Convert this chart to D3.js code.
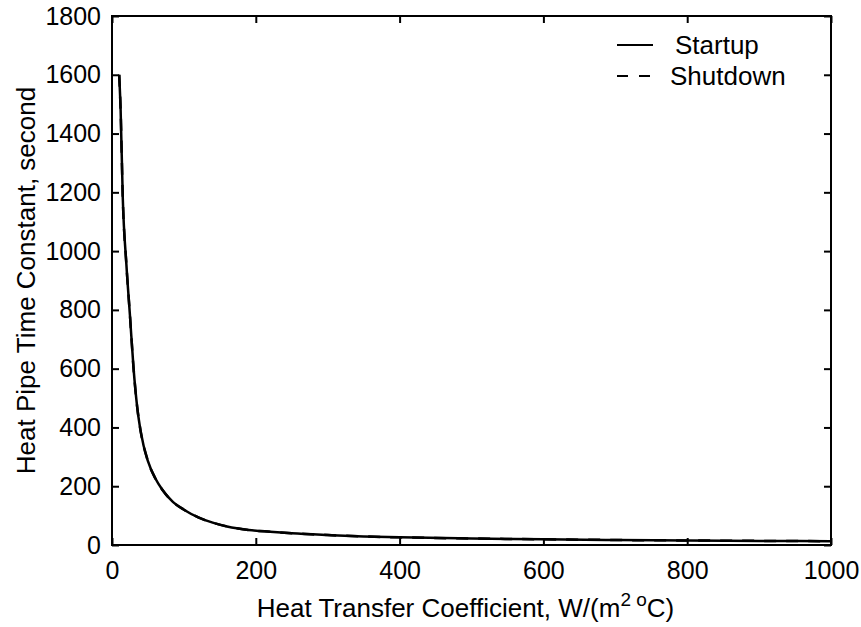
<!DOCTYPE html>
<html>
<head>
<meta charset="utf-8">
<script src="https://cdnjs.cloudflare.com/ajax/libs/d3/7.8.5/d3.min.js"></script>
<style>
  body { margin: 0; background: #fff; }
  text { font-family: "Liberation Sans", Arial, Helvetica, sans-serif; fill: #000; }
</style>
</head>
<body>
<div id="chart"></div>
<script>
// heat transfer coefficient, W/(m2 C)
var coeff = [10, 12, 15, 20, 25, 30, 35, 40, 50, 60, 70, 85, 100, 120, 140, 160, 190, 220, 250, 300, 350, 400, 500, 600, 700, 800, 900, 1000];
// time constant, seconds
var startup = [1600, 1480, 1180, 955, 780, 600, 470, 385, 285, 228, 188, 146, 120, 94, 76, 63, 51, 45, 40, 34, 29, 26, 22, 19.5, 17, 15.5, 14, 13];
// shutdown curve lies on top of the startup one
var shutdown = startup.slice();

var seriesNames = ["Startup", "Shutdown"];
var xTicks = [0, 200, 400, 600, 800, 1000];
var yTicks = [0, 200, 400, 600, 800, 1000, 1200, 1400, 1600, 1800];

var W = 861, H = 627;
var mLeft = 112, mRight = 831, mTop = 16, mBottom = 545;

var svg = d3.select("#chart").append("svg")
  .attr("width", W).attr("height", H);

var x = d3.scaleLinear().domain([0, 1000]).range([mLeft, mRight]);
var y = d3.scaleLinear().domain([0, 1800]).range([mBottom, mTop]);

// ticks on all four sides, pointing in
var tickLen = 7;
svg.append("g").attr("transform", "translate(0," + mBottom + ")")
  .call(d3.axisBottom(x).tickValues(xTicks).tickSize(-tickLen).tickPadding(16).tickFormat(d3.format("d")))
  .call(styleAxis);
svg.append("g").attr("transform", "translate(0," + mTop + ")")
  .call(d3.axisTop(x).tickValues(xTicks).tickSize(-tickLen).tickFormat(""))
  .call(styleAxis);
svg.append("g").attr("transform", "translate(" + mLeft + ",0)")
  .call(d3.axisLeft(y).tickValues(yTicks).tickSize(-tickLen).tickPadding(11).tickFormat(d3.format("d")))
  .call(styleAxis);
svg.append("g").attr("transform", "translate(" + mRight + ",0)")
  .call(d3.axisRight(y).tickValues(yTicks).tickSize(-tickLen).tickFormat(""))
  .call(styleAxis);

function styleAxis(g) {
  g.select(".domain").remove();
  g.selectAll(".tick line").attr("stroke", "#000").attr("stroke-width", 2);
  g.selectAll(".tick text").attr("font-size", 25).attr("fill", "#000")
    .style("font-family", "'Liberation Sans', Arial, sans-serif");
}

svg.append("rect")
  .attr("x", mLeft).attr("y", mTop)
  .attr("width", mRight - mLeft).attr("height", mBottom - mTop)
  .attr("fill", "none").attr("stroke", "#000").attr("stroke-width", 2);

var line = d3.line()
  .x(function (d) { return x(d[0]); })
  .y(function (d) { return y(d[1]); })
  .curve(d3.curveMonotoneX);

svg.append("path")
  .datum(d3.zip(coeff, startup))
  .attr("d", line)
  .attr("fill", "none").attr("stroke", "#000").attr("stroke-width", 2.5);
svg.append("path")
  .datum(d3.zip(coeff, shutdown))
  .attr("d", line)
  .attr("fill", "none").attr("stroke", "#000").attr("stroke-width", 2.5)
  .attr("stroke-dasharray", "12,10");

// legend
var legend = svg.append("g");
seriesNames.forEach(function (name, i) {
  var ly = 45 + i * 31;
  legend.append("line")
    .attr("x1", 617).attr("x2", 653).attr("y1", ly).attr("y2", ly)
    .attr("stroke", "#000").attr("stroke-width", 2)
    .attr("stroke-dasharray", i === 1 ? "11,11" : null);
  legend.append("text")
    .attr("x", i === 0 ? 675 : 670).attr("y", ly + 9)
    .attr("font-size", 26)
    .text(name);
});

// axis titles
var xl = svg.append("text")
  .attr("x", (mLeft + mRight) / 2 - 6).attr("y", 617)
  .attr("text-anchor", "middle").attr("font-size", 26);
xl.append("tspan").text("Heat Transfer Coefficient, W/(m");
xl.append("tspan").attr("dy", -11).attr("font-size", 19).text("2");
xl.append("tspan").attr("font-size", 19).text(" o");
xl.append("tspan").attr("dy", 11).text("C)");

svg.append("text")
  .attr("transform", "translate(35," + (mTop + mBottom) / 2 + ") rotate(-90)")
  .attr("text-anchor", "middle").attr("font-size", 26)
  .text("Heat Pipe Time Constant, second");
</script>
</body>
</html>
